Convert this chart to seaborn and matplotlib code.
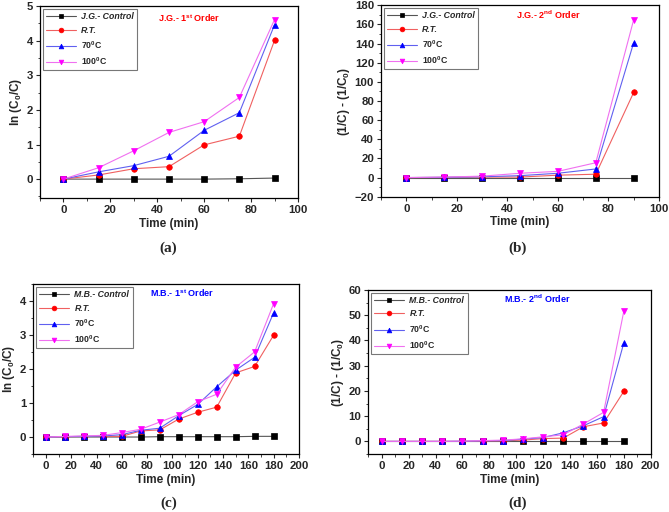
import numpy as np
import pandas as pd
import matplotlib
matplotlib.use("Agg")
import matplotlib.pyplot as plt
import seaborn as sns
from matplotlib.ticker import MultipleLocator

sns.set_style("ticks")
plt.rcParams['font.family'] = ['Liberation Sans', 'DejaVu Sans']
plt.rcParams['mathtext.fontset'] = 'custom'
plt.rcParams['mathtext.rm'] = 'Liberation Sans:bold'
plt.rcParams['mathtext.it'] = 'Liberation Sans:bold'
plt.rcParams['mathtext.bf'] = 'Liberation Sans:bold'

# ---- data ----
time_jg = [0, 15, 30, 45, 60, 75, 90]
time_mb = [0, 15, 30, 45, 60, 75, 90, 105, 120, 135, 150, 165, 180]

jg1_control = [0, 0, 0, 0, 0, 0.01, 0.03]
jg1_rt = [0, 0.12, 0.30, 0.36, 0.99, 1.24, 4.01]
jg1_70 = [0, 0.21, 0.39, 0.66, 1.41, 1.92, 4.46]
jg1_100 = [0, 0.33, 0.82, 1.35, 1.66, 2.36, 4.61]

jg2_control = [0, 0, 0, 0, 0, 0, 0]
jg2_rt = [0, 0.2, 0.5, 0.5, 2.5, 3.5, 89]
jg2_70 = [0, 0.3, 0.8, 2.0, 4.5, 9.0, 141]
jg2_100 = [0, 0.5, 1.5, 4.5, 6.5, 15.5, 165]

mb1_control = [0, 0, 0, 0, 0, 0, 0.01, 0.01, 0.01, 0.01, 0.01, 0.02, 0.02]
mb1_rt = [0, 0.01, 0.02, 0.02, 0.02, 0.18, 0.21, 0.53, 0.73, 0.88, 1.89, 2.08, 3.00]
mb1_70 = [0, 0.01, 0.02, 0.03, 0.07, 0.20, 0.26, 0.63, 0.96, 1.48, 1.97, 2.35, 3.66]
mb1_100 = [0, 0.02, 0.03, 0.05, 0.13, 0.23, 0.44, 0.66, 1.04, 1.26, 2.06, 2.51, 3.93]

mb2_control = [0, 0, 0, 0, 0, 0, 0, 0, 0, 0, 0, 0, 0]
mb2_rt = [0, 0, 0, 0, 0, 0.1, 0.2, 0.5, 1.1, 1.3, 5.8, 7.3, 19.8]
mb2_70 = [0, 0, 0, 0, 0.05, 0.2, 0.3, 0.9, 1.5, 3.4, 6.2, 9.8, 39.0]
mb2_100 = [0, 0, 0, 0, 0.1, 0.3, 0.5, 1.0, 1.8, 2.6, 6.9, 11.5, 51.5]

series_labels_jg = ["J.G.- Control", "R.T.", "70$^0$C", "100$^0$C"]
series_labels_mb = ["M.B.- Control", "R.T.", "70$^0$C", "100$^0$C"]
colors = ["black", "red", "blue", "magenta"]
line_colors = ["#555555", "#f06060", "#6060f0", "#f070f0"]
markers = ["s", "o", "^", "v"]

fig = plt.figure(figsize=(6.69, 5.12), dpi=100)

panels = [
    dict(pos=[0.0598, 0.613, 0.3856, 0.375], t=time_jg,
         ys=[jg1_control, jg1_rt, jg1_70, jg1_100], labels=series_labels_jg,
         xlim=(-10, 100), ylim=(-0.55, 5), xt=np.arange(0, 101, 20), yt=np.arange(0, 6, 1),
         xminor=10, yminor=0.5,
         ylabel="ln (C$_0$/C)", note="J.G.- 1$^{st}$ Order", ncolor="red",
         npos=(0.58, 0.94), tag="(a)", tagpos=(0.252, 0.516)),
    dict(pos=[0.5695, 0.6158, 0.4155, 0.3738], t=time_jg,
         ys=[jg2_control, jg2_rt, jg2_70, jg2_100], labels=series_labels_jg,
         xlim=(-10, 100), ylim=(-20, 180), xt=np.arange(0, 101, 20), yt=np.arange(-20, 181, 20),
         xminor=10, yminor=10,
         ylabel="(1/C) - (1/C$_0$)", note="J.G.- 2$^{nd}$ Order", ncolor="red",
         npos=(0.6, 0.95), tag="(b)", tagpos=(0.774, 0.516)),
    dict(pos=[0.0498, 0.1133, 0.397, 0.3314], t=time_mb,
         ys=[mb1_control, mb1_rt, mb1_70, mb1_100], labels=series_labels_mb,
         xlim=(-10, 200), ylim=(-0.5, 4.5), xt=np.arange(0, 201, 20), yt=np.arange(0, 5, 1),
         xminor=10, yminor=0.5,
         ylabel="ln (C$_0$/C)", note="M.B.- 1$^{st}$ Order", ncolor="blue",
         npos=(0.56, 0.947), tag="(c)", tagpos=(0.252, 0.0176)),
    dict(pos=[0.5505, 0.1133, 0.4221, 0.3203], t=time_mb,
         ys=[mb2_control, mb2_rt, mb2_70, mb2_100], labels=series_labels_mb,
         xlim=(-10, 200), ylim=(-5, 60), xt=np.arange(0, 201, 20), yt=np.arange(0, 61, 10),
         xminor=10, yminor=5,
         ylabel="(1/C) - (1/C$_0$)", note="M.B.- 2$^{nd}$ Order", ncolor="blue",
         npos=(0.6, 0.949), tag="(d)", tagpos=(0.774, 0.0176)),
]

for p in panels:
    ax = fig.add_axes(p["pos"])
    for y, lab, c, lc, m in zip(p["ys"], p["labels"], colors, line_colors, markers):
        df = pd.DataFrame({"t": p["t"], "v": y})
        sns.lineplot(data=df, x="t", y="v", ax=ax, color=lc, linewidth=0.8,
                     marker=m, markersize=4, markerfacecolor=c, markeredgecolor=c,
                     markeredgewidth=0.5, label=lab)
    ax.set_xlim(*p["xlim"])
    ax.set_ylim(*p["ylim"])
    ax.set_xticks(p["xt"])
    ax.set_yticks(p["yt"])
    ax.xaxis.set_minor_locator(MultipleLocator(p["xminor"]))
    ax.yaxis.set_minor_locator(MultipleLocator(p["yminor"]))
    ax.tick_params(which="major", length=3, width=0.8, labelsize=8.2, direction="out", pad=2)
    ax.tick_params(which="minor", length=1.8, width=0.6, direction="out")
    for lbl in ax.get_xticklabels() + ax.get_yticklabels():
        lbl.set_fontweight("bold")
    for s in ax.spines.values():
        s.set_linewidth(0.9)
        s.set_color("black")
    ax.set_xlabel("Time (min)", fontsize=8.5, fontweight="bold", labelpad=2)
    ax.set_ylabel(p["ylabel"], fontsize=8.5, fontweight="bold", labelpad=2)
    leg = ax.legend(loc="upper left", fontsize=6.3, frameon=True, fancybox=False,
                    borderaxespad=0.3, handlelength=3.4, labelspacing=0.5,
                    borderpad=0.4, handletextpad=0.6, markerscale=0.85)
    leg.get_frame().set_edgecolor("#555555")
    leg.get_frame().set_linewidth(0.8)
    for i, txt in enumerate(leg.get_texts()):
        txt.set_fontweight("bold")
        if i < 2:
            txt.set_fontstyle("italic")
    ax.text(p["npos"][0], p["npos"][1], p["note"], transform=ax.transAxes,
            ha="center", va="center", fontsize=6.5, fontweight="bold", color=p["ncolor"])
    fig.text(p["tagpos"][0], p["tagpos"][1], p["tag"], ha="center", va="center",
             fontsize=11, fontweight="bold", family=["Liberation Serif", "DejaVu Serif"])

fig.savefig("out.png", dpi=100)
